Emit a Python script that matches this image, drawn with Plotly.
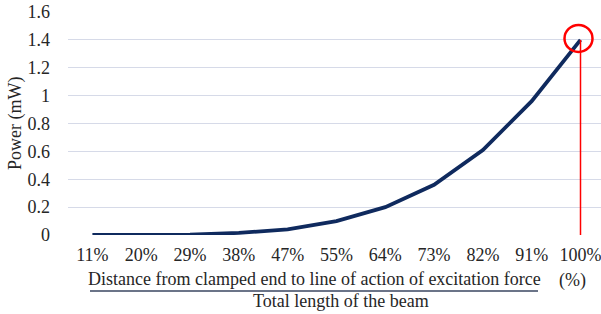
import plotly.graph_objects as go

categories = ["11%", "20%", "29%", "38%", "47%", "55%", "64%", "73%", "82%", "91%", "100%"]
power_mw = [0.0, 0.0, 0.002, 0.015, 0.04, 0.10, 0.20, 0.36, 0.61, 0.96, 1.40]
y_ticks = [0, 0.2, 0.4, 0.6, 0.8, 1.0, 1.2, 1.4, 1.6]
y_tick_labels = ["0", "0.2", "0.4", "0.6", "0.8", "1", "1.2", "1.4", "1.6"]

FONT = "Liberation Serif, Times New Roman, serif"
TXT = "#262626"
FS = 18
W, H = 601, 314
L, R, T, B = 68, 0, 12, 79

fig = go.Figure()
fig.add_trace(go.Scatter(
    x=categories, y=power_mw, mode="lines",
    line=dict(color="#0f2a5e", width=3.8),
    showlegend=False, hoverinfo="skip",
))

# red vertical marker line and circle at the maximum
fig.add_shape(type="line", xref="x", yref="y",
              x0=categories[-1], x1=categories[-1], y0=0, y1=power_mw[-1],
              line=dict(color="#ff0000", width=1.5), layer="above")
fig.add_shape(type="circle", xref="x", yref="y",
              xsizemode="pixel", ysizemode="pixel",
              xanchor=categories[-1], yanchor=power_mw[-1],
              x0=-16, x1=12, y0=-12, y1=15,
              line=dict(color="#ff0000", width=2.5), layer="above")

pw = W - L - R
ph = H - T - B
def px(x):
    return (x - L) / pw
def py(y):
    return (H - B - y) / ph

# y-axis title
fig.add_annotation(text="Power (mW)", xref="paper", yref="paper",
                   x=px(15), y=py(124), textangle=-90, showarrow=False,
                   font=dict(family=FONT, size=FS, color=TXT),
                   xanchor="center", yanchor="middle")
# x-axis title: fraction
fig.add_annotation(text="Distance from clamped end to line of action of excitation force",
                   xref="paper", yref="paper", x=px(314), y=py(279), showarrow=False,
                   font=dict(family=FONT, size=FS, color=TXT),
                   xanchor="center", yanchor="middle")
fig.add_shape(type="line", xref="paper", yref="paper",
              x0=px(90), x1=px(538), y0=py(291), y1=py(291),
              line=dict(color="#3a4660", width=1.5))
fig.add_annotation(text="Total length of the beam",
                   xref="paper", yref="paper", x=px(341), y=py(301), showarrow=False,
                   font=dict(family=FONT, size=FS, color=TXT),
                   xanchor="center", yanchor="middle")
fig.add_annotation(text="(%)",
                   xref="paper", yref="paper", x=px(572), y=py(280), showarrow=False,
                   font=dict(family=FONT, size=FS, color=TXT),
                   xanchor="center", yanchor="middle")

fig.update_layout(
    width=W, height=H,
    margin=dict(l=L, r=R, t=T, b=B),
    plot_bgcolor="white", paper_bgcolor="white",
    font=dict(family=FONT, size=FS, color=TXT),
    xaxis=dict(type="category", range=[-0.5, 10.42], showgrid=False,
               zeroline=False, showline=False, ticks="", automargin=False,
               ticklabelstandoff=7, tickfont=dict(family=FONT, size=FS, color=TXT)),
    yaxis=dict(range=[0, 1.6], tickvals=y_ticks, ticktext=y_tick_labels,
               showgrid=True, gridcolor="#d6dae8", gridwidth=1.2,
               zeroline=False, showline=False, ticks="", automargin=False,
               ticklabelstandoff=17, tickfont=dict(family=FONT, size=FS, color=TXT)),
)
fig.write_html("out.html", config={"displayModeBar": False},
               post_script="document.body.style.margin='0';document.body.style.padding='0';")
